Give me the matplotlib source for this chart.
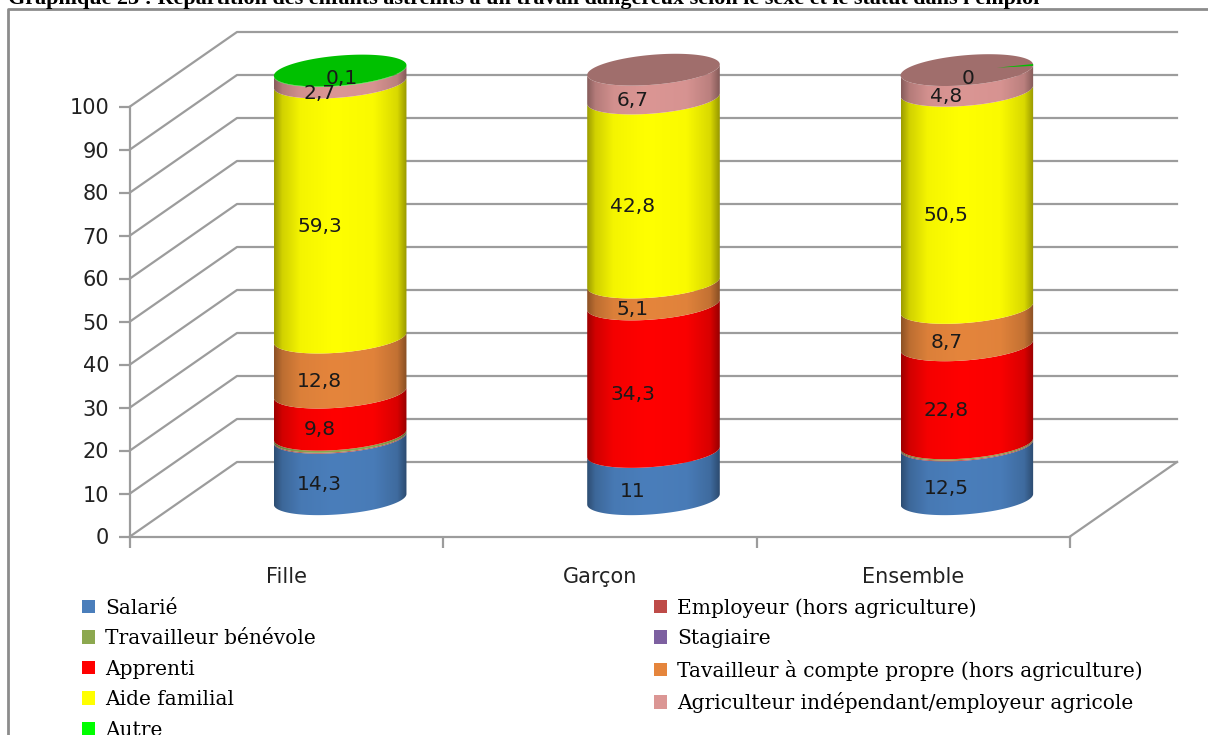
import numpy as np
import matplotlib
matplotlib.use('Agg')
import matplotlib.pyplot as plt
from matplotlib.patches import Polygon, Rectangle

# Data
categories = ['Fille', 'Garçon', 'Ensemble']
salarie = [14.3, 11, 12.5]
employeur = [0.2, 0, 0.2]
benevole = [0.5, 0, 0.3]
stagiaire = [0, 0, 0]
apprenti = [9.8, 34.3, 22.8]
tavailleur = [12.8, 5.1, 8.7]
aide = [59.3, 42.8, 50.5]
agriculteur = [2.7, 6.7, 4.8]
autre = [0.1, 0, 0]

series_names = ['Salarié', 'Employeur (hors agriculture)', 'Travailleur bénévole', 'Stagiaire',
                'Apprenti', 'Tavailleur à compte propre (hors agriculture)', 'Aide familial',
                'Agriculteur indépendant/employeur agricole', 'Autre']
series_values = [salarie, employeur, benevole, stagiaire, apprenti, tavailleur, aide, agriculteur, autre]
series_colors = ['#4A7EBB', '#BE4B48', '#8CA84F', '#7D60A0', '#FF0000', '#E5853C', '#FFFF00', '#DB9694', '#00FF00']
labelled = [True, False, False, False, True, True, True, True, False]
title = "Graphique 23 : Répartition des enfants astreints à un travail dangereux selon le sexe et le statut dans l'emploi"

W, H = 1208, 735
fig = plt.figure(figsize=(W / 100, H / 100), dpi=100)

# background frame in figure pixels
bg = fig.add_axes([0, 0, 1, 1])
bg.set_xlim(0, W)
bg.set_ylim(H, 0)
bg.axis('off')
bg.plot([8, 8, W + 5], [H + 5, 9, 9], color='#8c8c8c', lw=2)
bg.text(8, 4, title, family='Liberation Serif', weight='bold', fontsize=15.9, ha='left', va='baseline', color='black')

# front plane of the 3D chart
x0, x1, y_top, y_bot = 130, 1070, 106.5, 536.5
ax = fig.add_axes([x0 / W, 1 - y_bot / H, (x1 - x0) / W, (y_bot - y_top) / H])
ax.set_xlim(0, 3)
ax.set_ylim(0, 100)
ax.patch.set_alpha(0)
px_x = 3 / (x1 - x0)
px_y = 100 / (y_bot - y_top)
depth_x, depth_y = 107 * px_x, 74.5 * px_y
grid_col = '#9c9c9c'

for s in ['top', 'right']:
    ax.spines[s].set_visible(False)
for s in ['left', 'bottom']:
    ax.spines[s].set_color(grid_col)
    ax.spines[s].set_linewidth(1.6)
ax.set_yticks(np.arange(0, 101, 10))
ax.set_xticks(np.arange(4))
ax.set_xticklabels([])
ax.set_xticks(np.arange(3) + 0.5, labels=categories, minor=True)
ax.tick_params(axis='y', length=8, width=1.6, color=grid_col, labelsize=15, labelcolor='#222222', pad=7)
ax.tick_params(axis='x', which='major', length=8, width=1.6, color=grid_col)
ax.tick_params(axis='x', which='minor', length=0, labelsize=15, labelcolor='#222222', pad=22)

# walls and floor
for v in np.arange(0, 101, 10):
    ax.plot([0, depth_x, 3 + depth_x], [v, v + depth_y, v + depth_y], color=grid_col, lw=1.6,
            clip_on=False, zorder=1)
ax.plot([3, 3 + depth_x], [0, depth_y], color=grid_col, lw=1.6, clip_on=False, zorder=1)

# cylinder geometry
rad = 66.3 * px_x
semi = 15 * px_y
shear = 5.3 * px_y
t = np.linspace(np.pi, 2 * np.pi, 80)


def lower_arc(cx, v):
    # y axis points up here, so the near side of the disc is the lower one
    return cx + rad * np.cos(t), v + semi * np.sin(t) + shear * np.cos(t)


def shade(color):
    c = np.array(matplotlib.colors.to_rgb(color))
    pos = np.linspace(0, 1, 133)
    f = np.interp(pos, [0, 0.06, 0.2, 0.45, 0.75, 0.93, 1], [0.62, 0.82, 0.96, 1, 0.98, 0.85, 0.6])
    return (c * f[:, None])[None, :, :]


for i in range(len(categories)):
    cx = i + 0.5 + depth_x / 2
    base = depth_y / 2
    bottom = 0
    top_col = None
    for name, vals, col, lab in zip(series_names, series_values, series_colors, labelled):
        v = vals[i]
        if v <= 0:
            continue
        ax_, ay_ = lower_arc(cx, base + bottom)
        bx_, by_ = lower_arc(cx, base + bottom + v)
        poly = Polygon(np.r_[np.c_[ax_, ay_], np.c_[bx_, by_][::-1]], closed=True, fc='none', ec='none')
        ax.add_patch(poly)
        im = ax.imshow(shade(col), extent=[cx - rad, cx + rad, base + bottom - 20, base + bottom + v + 20],
                       aspect='auto', interpolation='bilinear', zorder=3)
        im.set_clip_box(fig.bbox)
        im.set_clip_path(poly)
        if lab:
            ax.text(i + 0.5 + 33 * px_x, bottom + v / 2 + 21 * px_y, f'{v:g}'.replace('.', ','),
                    ha='center', va='center', fontsize=14.5, color='#1a1a1a', zorder=6, clip_on=False)
        bottom += v
        top_col = col
    # top disc: the last series gives the colour, darkened when it is not Autre
    if autre[i] > 0:
        disc = '#00C000'
    else:
        disc = tuple(np.array(matplotlib.colors.to_rgb(top_col)) * 0.73)
    tt = np.linspace(0, 2 * np.pi, 160)
    dx = cx + rad * np.cos(tt)
    dy = base + bottom + semi * np.sin(tt) + shear * np.cos(tt)
    ax.add_patch(Polygon(np.c_[dx, dy], closed=True, fc=disc, ec='none', zorder=4, clip_on=False))
    if i == 2:
        # the empty Autre slice shows as a green sliver on the disc
        ax.add_patch(Polygon([[cx + 0.45 * rad, base + bottom + 0.45 * shear],
                              [cx + rad, base + bottom + shear * 0.8],
                              [cx + rad, base + bottom + shear * 1.15]],
                             closed=True, fc='#00C000', ec='none', zorder=5, clip_on=False))
    if i != 1:
        ax.text(i + 0.5 + 55 * px_x, bottom + 29 * px_y, f'{autre[i]:g}'.replace('.', ','),
                ha='center', va='center', fontsize=14.5, color='#1a1a1a', zorder=6, clip_on=False)

ax.set_xlim(0, 3)
ax.set_ylim(0, 100)

# legend, column by column so the reading order follows the rows
order = [0, 2, 4, 6, 8, 1, 3, 5, 7]
handles = [Rectangle((0, 0), 1, 1, fc=series_colors[k], ec='none') for k in order]
names = [series_names[k] for k in order]
leg = fig.legend(handles, names, ncol=2, loc='upper left', bbox_to_anchor=(82 / W, 1 - 598 / H),
                 bbox_transform=fig.transFigure, frameon=False,
                 prop={'family': 'DejaVu Serif', 'size': 14.5},
                 handlelength=0.65, handleheight=0.65, handletextpad=0.5,
                 labelspacing=0.57, columnspacing=16.8, borderpad=0, borderaxespad=0)

fig.savefig('out.png', dpi=100)
